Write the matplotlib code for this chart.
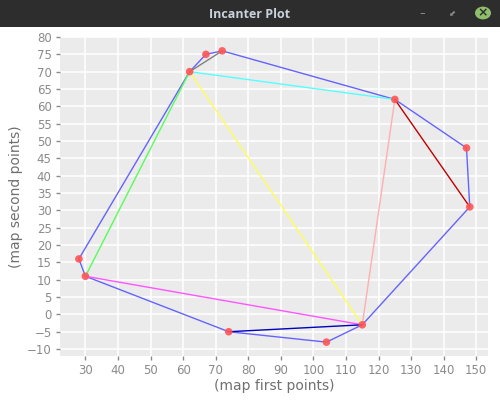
import matplotlib
matplotlib.use("Agg")
import matplotlib.pyplot as plt
from matplotlib.patches import Rectangle, Circle

# points of the scatter
xs = [28, 30, 62, 67, 72, 125, 147, 148, 115, 104, 74]
ys = [16, 11, 70, 75, 76, 62, 48, 31, -3, -8, -5]

# outer polygon (closed)
hull_x = [28, 62, 67, 72, 125, 147, 148, 115, 104, 74, 30, 28]
hull_y = [16, 70, 75, 76, 62, 48, 31, -3, -8, -5, 11, 16]

# extra segments: (x0, x1), (y0, y1), colour
seg_x = [(30, 62), (62, 115), (30, 115), (62, 125), (125, 115), (62, 72), (125, 148), (74, 115)]
seg_y = [(11, 70), (70, -3), (11, -3), (70, 62), (62, -3), (70, 76), (62, 31), (-5, -3)]
seg_c = ['#55FF55', '#FFFF55', '#FF55FF', '#55FFFF', '#FFAFAF', '#808080', '#C00000', '#0000C0']

x_ticks = list(range(30, 151, 10))
y_ticks = list(range(-10, 81, 5))

fig = plt.figure(figsize=(5, 4), dpi=100)
fig.patch.set_facecolor('white')

# window title bar
fig.patches.append(Rectangle((0, 1 - 27/400), 1, 27/400, transform=fig.transFigure,
                             facecolor='#2d2d2d', edgecolor='none', zorder=0))
fig.text(0.5, 1 - 14/400, "Incanter Plot", ha='center', va='center',
         color='#c9d1dc', fontsize=9, fontweight='bold', family='Open Sans')
fig.text(422/500, 1 - 13/400, "–", ha='center', va='center', color='#9a9a9a', fontsize=8)
fig.text(452/500, 1 - 13/400, "⬋", ha='center', va='center', color='#8a8a8a', fontsize=6)
fig.patches.append(Circle((483/500, 1 - 13/400), 8/500, transform=fig.transFigure,
                          facecolor='#8fbf6a', edgecolor='none'))
fig.text(483/500, 1 - 13/400, "×", ha='center', va='center', color='#2d2d2d',
         fontsize=9, fontweight='bold')

ax = fig.add_axes([0.12, 0.11, 0.856, 0.7975])
ax.set_facecolor('#ebebeb')
for s in ax.spines.values():
    s.set_visible(False)
ax.grid(True, color='white', linewidth=1.1)
ax.set_axisbelow(True)

ax.scatter(xs, ys, s=30, color='#FF5555', alpha=0.9, zorder=3, edgecolors='none')
ax.plot(hull_x, hull_y, color='#5555FF', linewidth=1, alpha=0.9, zorder=2)
for sx, sy, c in zip(seg_x, seg_y, seg_c):
    ax.plot(sx, sy, color=c, linewidth=1, zorder=2)

ax.set_xlim(22.2, 153.6)
ax.set_ylim(-12.0, 80.0)
ax.set_xticks(x_ticks)
ax.set_yticks(y_ticks)
ax.tick_params(colors='#8a8a8a', labelcolor='#8a8a8a', labelsize=8.5, length=3, width=1, pad=3)
ax.set_xlabel("(map first points)", color='#707070', fontsize=10, labelpad=1)
ax.set_ylabel("(map second points)", color='#707070', fontsize=10, labelpad=3)

fig.savefig("out.png", dpi=100)
